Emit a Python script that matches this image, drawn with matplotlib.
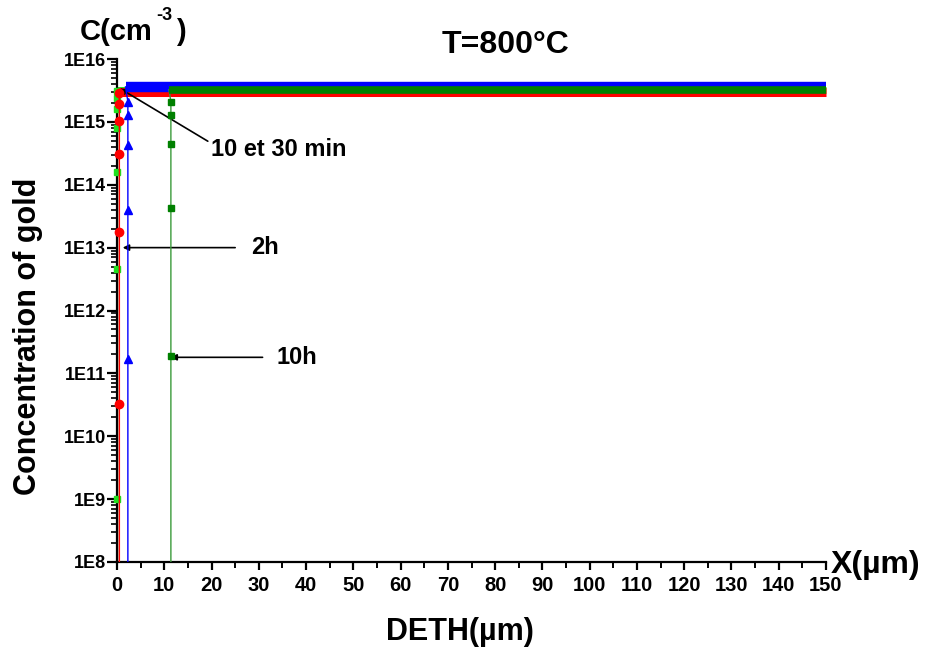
import matplotlib
matplotlib.use("Agg")
import matplotlib.pyplot as plt
from matplotlib.ticker import FixedLocator, LogLocator, NullFormatter, MultipleLocator

plt.rcParams['font.family'] = ['Liberation Sans', 'DejaVu Sans']
plt.rcParams['font.weight'] = 'bold'

# depth (um) and gold concentration (cm-3)
x_10min = [0.05, 0.05, 0.05, 0.05, 0.05, 0.05, 0.05]
c_10min = [1e9, 4.5e12, 1.6e14, 8e14, 1.6e15, 2.4e15, 3.1e15]

x_30min = [0.5, 0.5, 0.5, 0.5, 0.5, 0.45]
c_30min = [3.2e10, 1.8e13, 3.1e14, 1.05e15, 1.9e15, 2.9e15]

x_2h = [2.3, 2.3, 2.3, 2.3, 2.3]
c_2h = [1.7e11, 4.0e13, 4.3e14, 1.3e15, 2.1e15]

x_10h = [11.4, 11.4, 11.4, 11.4, 11.4]
c_10h = [1.9e11, 4.2e13, 4.4e14, 1.3e15, 2.1e15]

# surface (plateau) level of each profile and where it starts
plateau_start = [0.05, 0.45, 1.8, 11.0]
plateau_level = [3.2e15, 3.0e15, 3.6e15, 3.25e15]
x_end = 150
c_floor = 1e7

x_ticks = list(range(0, 151, 10))
y_ticks = [1e8, 1e9, 1e10, 1e11, 1e12, 1e13, 1e14, 1e15, 1e16]
y_labels = ["1E8", "1E9", "1E10", "1E11", "1E12", "1E13", "1E14", "1E15", "1E16"]

series = [
    (x_10min, c_10min, 's', '#1fe01f', '#008000', 5.0, 5.0),
    (x_30min, c_30min, 'o', '#ff0000', '#ff0000', 6.0, 6.5),
    (x_2h, c_2h, '^', '#0000ff', '#0000ff', 6.0, 7.5),
    (x_10h, c_10h, 's', '#008000', '#3a9a3a', 5.0, 5.5),
]

fig = plt.figure(figsize=(9.36, 6.56), dpi=100)
ax = fig.add_axes([117 / 936, 1 - 562 / 656, 709 / 936, 503 / 656])

for i, (xs, cs, mk, mcol, lcol, ms, plw) in enumerate(series):
    # vertical front of the profile
    ax.plot([xs[0]] + xs + [plateau_start[i]], [c_floor] + cs + [plateau_level[i]],
            color=lcol, lw=1.0, zorder=2 + i)
    # plateau (dense markers in the original -> thick band)
    ax.plot([plateau_start[i], x_end], [plateau_level[i], plateau_level[i]],
            color=mcol, lw=plw, solid_capstyle='butt', zorder=2 + i, clip_on=False)
    ax.plot(xs, cs, linestyle='none', marker=mk, color=mcol, ms=ms, zorder=3 + i,
            clip_on=False)

ax.set_yscale('log')
ax.set_xlim(0, 150)
ax.set_ylim(1e8, 1e16)

ax.yaxis.set_major_locator(FixedLocator(y_ticks))
ax.set_yticklabels(y_labels)
ax.yaxis.set_minor_locator(LogLocator(base=10, subs=range(2, 10), numticks=20))
ax.yaxis.set_minor_formatter(NullFormatter())
ax.set_xticks(x_ticks)
ax.xaxis.set_minor_locator(MultipleLocator(5))

for s in ['top', 'right']:
    ax.spines[s].set_visible(False)
for s in ['left', 'bottom']:
    ax.spines[s].set_linewidth(1.6)

ax.tick_params(axis='y', which='major', length=7, width=1.6, labelsize=13, pad=1)
ax.tick_params(axis='y', which='minor', length=4, width=1.2)
ax.tick_params(axis='x', which='major', length=6, width=1.6, labelsize=14.5, pad=4)
ax.tick_params(axis='x', which='minor', length=4, width=1.4)
for lab in ax.get_xticklabels() + ax.get_yticklabels():
    lab.set_fontweight('bold')

# annotations
arw = dict(arrowstyle='-|>', color='black', lw=1.2, mutation_scale=9)
ax.annotate('10 et 30 min', xy=(0.6, 3.4e15), xytext=(19.8, 3.6e14),
            fontsize=17, fontweight='bold', va='center', ha='left',
            arrowprops=dict(arw, shrinkA=0, shrinkB=0, relpos=(0, 0.8)))
ax.annotate('', xy=(1.2, 1e13), xytext=(25.0, 1e13), arrowprops=dict(arw, shrinkA=0, shrinkB=0))
ax.text(28.3, 1e13, '2h', fontsize=17, fontweight='bold', va='center', ha='left')
ax.annotate('', xy=(11.3, 1.8e11), xytext=(30.8, 1.8e11), arrowprops=dict(arw, shrinkA=0, shrinkB=0))
ax.text(33.8, 1.8e11, '10h', fontsize=17, fontweight='bold', va='center', ha='left')

fig.text(505 / 936, 1 - 45 / 656, 'T=800°C', fontsize=23, fontweight='bold', ha='center', va='center')
# C(cm-3) with a small raised "-3"
fig.text(80 / 936, 1 - 32 / 656, 'C(cm', fontsize=21, fontweight='bold', ha='left', va='center')
fig.text(156 / 936, 1 - 15 / 656, '-3', fontsize=13, fontweight='bold', ha='left', va='center')
fig.text(176 / 936, 1 - 32 / 656, ')', fontsize=21, fontweight='bold', ha='left', va='center')
fig.text(876 / 936, 1 - 565 / 656, 'X(µm)', fontsize=23, fontweight='bold', ha='center', va='center')
fig.text(460 / 936, 1 - 632 / 656, 'DETH(µm)', fontsize=22, fontweight='bold', ha='center', va='center')
fig.text(28 / 936, 1 - 336 / 656, 'Concentration of gold', fontsize=22, fontweight='bold',
         ha='center', va='center', rotation=90)

fig.savefig('out.png', dpi=100)
